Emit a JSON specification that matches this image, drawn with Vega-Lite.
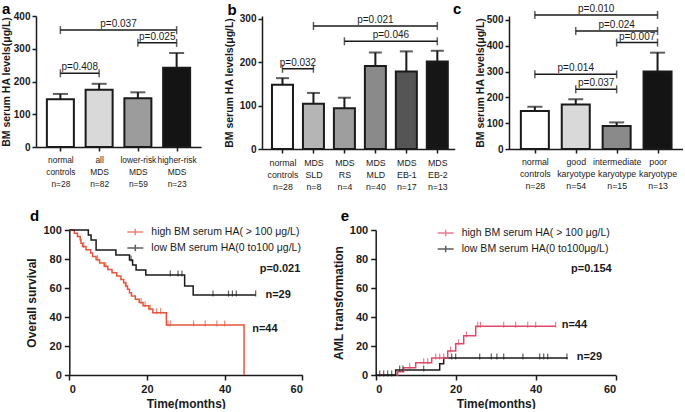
{
"$schema": "https://vega.github.io/schema/vega-lite/v6.json",
"padding": {"left": 1, "top": 2, "right": 0, "bottom": 0},
"background": "white",
"config": {
  "view": {"stroke": null},
  "font": "Liberation Sans",
  "title": {"font": "Liberation Sans", "fontSize": 15, "fontWeight": "bold", "anchor": "start", "color": "#000000", "frame": "group"},
  "axis": {"grid": false, "labelOverlap": false, "domainColor": "#1a1a1a", "tickColor": "#1a1a1a", "labelColor": "#1a1a1a", "titleColor": "#1a1a1a", "domainWidth": 1.5, "tickWidth": 1.5, "labelFont": "Liberation Sans", "titleFont": "Liberation Sans"},
  "legend": {"labelFont": "Liberation Sans"},
  "text": {"font": "Liberation Sans"}
},
"datasets": {
  "barsA": [
    {"i": 0, "group": "normal controls", "mean": 146, "upper": 162},
    {"i": 1, "group": "all MDS", "mean": 175, "upper": 193},
    {"i": 2, "group": "lower-risk MDS", "mean": 148.5, "upper": 167},
    {"i": 3, "group": "higher-risk MDS", "mean": 242, "upper": 287}
  ],
  "brA": [
    {"from": 0, "to": 3, "mid": 1.5, "y": 357, "label": "p=0.037"},
    {"from": 2, "to": 3, "mid": 2.5, "y": 318, "label": "p=0.025"},
    {"from": 0, "to": 1, "mid": 0.5, "y": 225, "label": "p=0.408"}
  ],
  "barsB": [
    {"i": 0, "group": "normal controls", "mean": 147.7, "upper": 163},
    {"i": 1, "group": "MDS SLD", "mean": 104, "upper": 129},
    {"i": 2, "group": "MDS RS", "mean": 94, "upper": 118},
    {"i": 3, "group": "MDS MLD", "mean": 191, "upper": 222},
    {"i": 4, "group": "MDS EB-1", "mean": 178.5, "upper": 224.6},
    {"i": 5, "group": "MDS EB-2", "mean": 201.5, "upper": 226}
  ],
  "brB": [
    {"from": 0, "to": 1, "mid": 0.5, "y": 184.6, "label": "p=0.032"},
    {"from": 2, "to": 5, "mid": 3.5, "y": 247.7, "label": "p=0.046"},
    {"from": 1, "to": 5, "mid": 3, "y": 283, "label": "p=0.021"}
  ],
  "barsC": [
    {"i": 0, "group": "normal controls", "mean": 147, "upper": 164},
    {"i": 1, "group": "good karyotype", "mean": 172, "upper": 192.5},
    {"i": 2, "group": "intermediate karyotype", "mean": 89, "upper": 103},
    {"i": 3, "group": "poor karyotype", "mean": 300, "upper": 373}
  ],
  "brC": [
    {"from": 0, "to": 3, "mid": 1.5, "y": 519, "label": "p=0.010"},
    {"from": 1, "to": 3, "mid": 2, "y": 457, "label": "p=0.024"},
    {"from": 2, "to": 3, "mid": 2.5, "y": 412, "label": "p=0.007"},
    {"from": 0, "to": 2, "mid": 1, "y": 289, "label": "p=0.014"},
    {"from": 1, "to": 2, "mid": 1.5, "y": 231, "label": "p=0.037"}
  ],
  "kmD": [
    {"group": "high BM serum HA( > 100 μg/L)", "t": 0, "s": 100},
    {"group": "high BM serum HA( > 100 μg/L)", "t": 1.3, "s": 97.7},
    {"group": "high BM serum HA( > 100 μg/L)", "t": 2.1, "s": 95.5},
    {"group": "high BM serum HA( > 100 μg/L)", "t": 2.8, "s": 93.2},
    {"group": "high BM serum HA( > 100 μg/L)", "t": 3.0, "s": 90.9},
    {"group": "high BM serum HA( > 100 μg/L)", "t": 3.4, "s": 88.6},
    {"group": "high BM serum HA( > 100 μg/L)", "t": 4.3, "s": 86.4},
    {"group": "high BM serum HA( > 100 μg/L)", "t": 5.5, "s": 84.1},
    {"group": "high BM serum HA( > 100 μg/L)", "t": 6.0, "s": 81.8},
    {"group": "high BM serum HA( > 100 μg/L)", "t": 6.9, "s": 79.5},
    {"group": "high BM serum HA( > 100 μg/L)", "t": 7.8, "s": 77.3},
    {"group": "high BM serum HA( > 100 μg/L)", "t": 9.0, "s": 75.0},
    {"group": "high BM serum HA( > 100 μg/L)", "t": 9.9, "s": 72.7},
    {"group": "high BM serum HA( > 100 μg/L)", "t": 11.0, "s": 70.5},
    {"group": "high BM serum HA( > 100 μg/L)", "t": 12.2, "s": 68.2},
    {"group": "high BM serum HA( > 100 μg/L)", "t": 13.3, "s": 65.9},
    {"group": "high BM serum HA( > 100 μg/L)", "t": 14.0, "s": 63.6},
    {"group": "high BM serum HA( > 100 μg/L)", "t": 14.5, "s": 61.4},
    {"group": "high BM serum HA( > 100 μg/L)", "t": 15.0, "s": 59.1},
    {"group": "high BM serum HA( > 100 μg/L)", "t": 15.5, "s": 56.8},
    {"group": "high BM serum HA( > 100 μg/L)", "t": 16.0, "s": 54.5},
    {"group": "high BM serum HA( > 100 μg/L)", "t": 17.0, "s": 52.3},
    {"group": "high BM serum HA( > 100 μg/L)", "t": 18.0, "s": 50.0},
    {"group": "high BM serum HA( > 100 μg/L)", "t": 19.0, "s": 47.7},
    {"group": "high BM serum HA( > 100 μg/L)", "t": 20.5, "s": 45.5},
    {"group": "high BM serum HA( > 100 μg/L)", "t": 21.5, "s": 43.0},
    {"group": "high BM serum HA( > 100 μg/L)", "t": 25.0, "s": 34.5},
    {"group": "high BM serum HA( > 100 μg/L)", "t": 45.0, "s": 34.5},
    {"group": "high BM serum HA( > 100 μg/L)", "t": 45.0, "s": 0},
    {"group": "low BM serum HA(0 to100 μg/L)", "t": 0, "s": 100},
    {"group": "low BM serum HA(0 to100 μg/L)", "t": 4.9, "s": 96.6},
    {"group": "low BM serum HA(0 to100 μg/L)", "t": 5.6, "s": 93.1},
    {"group": "low BM serum HA(0 to100 μg/L)", "t": 6.9, "s": 86.2},
    {"group": "low BM serum HA(0 to100 μg/L)", "t": 12.0, "s": 82.8},
    {"group": "low BM serum HA(0 to100 μg/L)", "t": 15.5, "s": 79.3},
    {"group": "low BM serum HA(0 to100 μg/L)", "t": 16.3, "s": 75.9},
    {"group": "low BM serum HA(0 to100 μg/L)", "t": 17.2, "s": 72.4},
    {"group": "low BM serum HA(0 to100 μg/L)", "t": 19.7, "s": 69.0},
    {"group": "low BM serum HA(0 to100 μg/L)", "t": 29.7, "s": 61.3},
    {"group": "low BM serum HA(0 to100 μg/L)", "t": 31.9, "s": 55.1},
    {"group": "low BM serum HA(0 to100 μg/L)", "t": 48.0, "s": 55.1}
  ],
  "censD": [
    {"group": "high BM serum HA( > 100 μg/L)", "t": 3.7, "s": 88.6},
    {"group": "high BM serum HA( > 100 μg/L)", "t": 7.3, "s": 79.5},
    {"group": "high BM serum HA( > 100 μg/L)", "t": 9.4, "s": 75.0},
    {"group": "high BM serum HA( > 100 μg/L)", "t": 14.6, "s": 61.4},
    {"group": "high BM serum HA( > 100 μg/L)", "t": 18.5, "s": 50.0},
    {"group": "high BM serum HA( > 100 μg/L)", "t": 19.5, "s": 47.7},
    {"group": "high BM serum HA( > 100 μg/L)", "t": 20.8, "s": 45.5},
    {"group": "high BM serum HA( > 100 μg/L)", "t": 22.5, "s": 43.0},
    {"group": "high BM serum HA( > 100 μg/L)", "t": 23.5, "s": 43.0},
    {"group": "high BM serum HA( > 100 μg/L)", "t": 25.4, "s": 34.5},
    {"group": "high BM serum HA( > 100 μg/L)", "t": 26.0, "s": 34.5},
    {"group": "high BM serum HA( > 100 μg/L)", "t": 32.0, "s": 34.5},
    {"group": "high BM serum HA( > 100 μg/L)", "t": 35.0, "s": 34.5},
    {"group": "high BM serum HA( > 100 μg/L)", "t": 38.0, "s": 34.5},
    {"group": "high BM serum HA( > 100 μg/L)", "t": 40.0, "s": 34.5},
    {"group": "low BM serum HA(0 to100 μg/L)", "t": 15.9, "s": 79.3},
    {"group": "low BM serum HA(0 to100 μg/L)", "t": 26.0, "s": 69.0},
    {"group": "low BM serum HA(0 to100 μg/L)", "t": 28.0, "s": 69.0},
    {"group": "low BM serum HA(0 to100 μg/L)", "t": 29.0, "s": 69.0},
    {"group": "low BM serum HA(0 to100 μg/L)", "t": 37.0, "s": 55.1},
    {"group": "low BM serum HA(0 to100 μg/L)", "t": 41.0, "s": 55.1},
    {"group": "low BM serum HA(0 to100 μg/L)", "t": 42.0, "s": 55.1},
    {"group": "low BM serum HA(0 to100 μg/L)", "t": 43.0, "s": 55.1},
    {"group": "low BM serum HA(0 to100 μg/L)", "t": 48.0, "s": 55.1}
  ],
  "kmE": [
    {"group": "low BM serum HA(0 to100μg/L)", "t": 0, "s": 0},
    {"group": "low BM serum HA(0 to100μg/L)", "t": 5.0, "s": 3.4},
    {"group": "low BM serum HA(0 to100μg/L)", "t": 16.0, "s": 7.8},
    {"group": "low BM serum HA(0 to100μg/L)", "t": 17.0, "s": 11.7},
    {"group": "low BM serum HA(0 to100μg/L)", "t": 48.0, "s": 11.7},
    {"group": "high BM serum HA( > 100 μg/L)", "t": 5.2, "s": 0},
    {"group": "high BM serum HA( > 100 μg/L)", "t": 5.5, "s": 2.3},
    {"group": "high BM serum HA( > 100 μg/L)", "t": 7.0, "s": 5.0},
    {"group": "high BM serum HA( > 100 μg/L)", "t": 10.0, "s": 8.5},
    {"group": "high BM serum HA( > 100 μg/L)", "t": 14.0, "s": 11.7},
    {"group": "high BM serum HA( > 100 μg/L)", "t": 18.0, "s": 16.5},
    {"group": "high BM serum HA( > 100 μg/L)", "t": 20.0, "s": 21.5},
    {"group": "high BM serum HA( > 100 μg/L)", "t": 22.0, "s": 27.0},
    {"group": "high BM serum HA( > 100 μg/L)", "t": 25.0, "s": 33.6},
    {"group": "high BM serum HA( > 100 μg/L)", "t": 45.0, "s": 33.6}
  ],
  "censE": [
    {"group": "low BM serum HA(0 to100μg/L)", "t": 1, "s": 0},
    {"group": "low BM serum HA(0 to100μg/L)", "t": 2, "s": 0},
    {"group": "low BM serum HA(0 to100μg/L)", "t": 3, "s": 0},
    {"group": "low BM serum HA(0 to100μg/L)", "t": 4, "s": 0},
    {"group": "low BM serum HA(0 to100μg/L)", "t": 6, "s": 3.4},
    {"group": "low BM serum HA(0 to100μg/L)", "t": 6.8, "s": 3.4},
    {"group": "low BM serum HA(0 to100μg/L)", "t": 12, "s": 3.4},
    {"group": "low BM serum HA(0 to100μg/L)", "t": 19, "s": 11.7},
    {"group": "low BM serum HA(0 to100μg/L)", "t": 20, "s": 11.7},
    {"group": "low BM serum HA(0 to100μg/L)", "t": 26, "s": 11.7},
    {"group": "low BM serum HA(0 to100μg/L)", "t": 28.9, "s": 11.7},
    {"group": "low BM serum HA(0 to100μg/L)", "t": 30.3, "s": 11.7},
    {"group": "low BM serum HA(0 to100μg/L)", "t": 32, "s": 11.7},
    {"group": "low BM serum HA(0 to100μg/L)", "t": 36.8, "s": 11.7},
    {"group": "low BM serum HA(0 to100μg/L)", "t": 41, "s": 11.7},
    {"group": "low BM serum HA(0 to100μg/L)", "t": 42, "s": 11.7},
    {"group": "low BM serum HA(0 to100μg/L)", "t": 43, "s": 11.7},
    {"group": "low BM serum HA(0 to100μg/L)", "t": 47.8, "s": 11.7},
    {"group": "high BM serum HA( > 100 μg/L)", "t": 8.5, "s": 5.0},
    {"group": "high BM serum HA( > 100 μg/L)", "t": 12, "s": 8.5},
    {"group": "high BM serum HA( > 100 μg/L)", "t": 13, "s": 8.5},
    {"group": "high BM serum HA( > 100 μg/L)", "t": 15, "s": 11.7},
    {"group": "high BM serum HA( > 100 μg/L)", "t": 16, "s": 11.7},
    {"group": "high BM serum HA( > 100 μg/L)", "t": 17, "s": 11.7},
    {"group": "high BM serum HA( > 100 μg/L)", "t": 18.7, "s": 16.5},
    {"group": "high BM serum HA( > 100 μg/L)", "t": 20.7, "s": 21.5},
    {"group": "high BM serum HA( > 100 μg/L)", "t": 22.7, "s": 27.0},
    {"group": "high BM serum HA( > 100 μg/L)", "t": 25.5, "s": 33.6},
    {"group": "high BM serum HA( > 100 μg/L)", "t": 26.2, "s": 33.6},
    {"group": "high BM serum HA( > 100 μg/L)", "t": 32, "s": 33.6},
    {"group": "high BM serum HA( > 100 μg/L)", "t": 35, "s": 33.6},
    {"group": "high BM serum HA( > 100 μg/L)", "t": 38, "s": 33.6},
    {"group": "high BM serum HA( > 100 μg/L)", "t": 40, "s": 33.6},
    {"group": "high BM serum HA( > 100 μg/L)", "t": 45, "s": 33.6}
  ]
},
"columns": 3,
"align": "each",
"bounds": "flush",
"spacing": {"row": 81, "column": 54},
"resolve": {"scale": {"fill": "independent", "color": "independent"}, "legend": {"fill": "independent", "color": "independent"}},
"concat": [
   {
    "width": 171.6, "height": 131,
    "title": {"text": "a", "dx": -34, "offset": -6},
    "layer": [
     {"data": {"name": "barsA"},
      "mark": {"type": "bar", "width": 27, "stroke": "#1a1a1a", "strokeWidth": 2},
      "encoding": {
       "x": {"field": "i", "type": "quantitative", "scale": {"domain": [-0.5, 3.5], "range": [0, 165], "nice": false, "zero": false},
             "axis": {"title": null, "values": [0, 1, 2, 3], "tickCount": 20, "tickSize": 4, "labelFontSize": 8.4, "labelLineHeight": 12, "labelPadding": 4, "labelFlush": false, "labelOverlap": false,
                      "labelExpr": "split(['normal|controls|n=28','all|MDS|n=82','lower-risk|MDS|n=59','higher-risk|MDS|n=23'][datum.value], '|')"}},
       "y": {"field": "mean", "type": "quantitative", "scale": {"domain": [0, 400], "nice": false},
             "axis": {"title": "BM serum HA levels(μg/L)", "values": [0, 100, 200, 300, 400], "tickCount": 20, "tickSize": 4, "labelFontSize": 10, "labelFontWeight": "bold", "labelPadding": 2, "titleFontSize": 10.5, "titleFontWeight": "bold", "titlePadding": 2}},
       "fill": {"field": "group", "type": "nominal", "legend": null,
                "scale": {"domain": ["normal controls", "all MDS", "lower-risk MDS", "higher-risk MDS"], "range": ["#ffffff", "#d9d9d9", "#9c9c9c", "#141414"]}}
      }},
     {"data": {"name": "barsA"}, "mark": {"type": "rule", "strokeWidth": 2, "color": "#1a1a1a"},
      "encoding": {"x": {"field": "i", "type": "quantitative"}, "y": {"field": "mean", "type": "quantitative"}, "y2": {"field": "upper"}}},
     {"data": {"name": "barsA"}, "mark": {"type": "tick", "orient": "horizontal", "size": 15, "thickness": 2, "color": "#1a1a1a"},
      "encoding": {"x": {"field": "i", "type": "quantitative"}, "y": {"field": "upper", "type": "quantitative"}}},
     {"data": {"name": "brA"}, "mark": {"type": "rule", "strokeWidth": 1.5, "color": "#1a1a1a"},
      "encoding": {"x": {"field": "from", "type": "quantitative"}, "x2": {"field": "to"}, "y": {"field": "y", "type": "quantitative"}}},
     {"data": {"name": "brA"}, "mark": {"type": "tick", "orient": "vertical", "size": 8, "thickness": 1.5, "color": "#1a1a1a"},
      "encoding": {"x": {"field": "from", "type": "quantitative"}, "y": {"field": "y", "type": "quantitative"}}},
     {"data": {"name": "brA"}, "mark": {"type": "tick", "orient": "vertical", "size": 8, "thickness": 1.5, "color": "#1a1a1a"},
      "encoding": {"x": {"field": "to", "type": "quantitative"}, "y": {"field": "y", "type": "quantitative"}}},
     {"data": {"name": "brA"}, "mark": {"type": "text", "fontSize": 10, "dy": -3, "baseline": "alphabetic", "color": "#1a1a1a"},
      "encoding": {"x": {"field": "mid", "type": "quantitative"}, "y": {"field": "y", "type": "quantitative"}, "text": {"field": "label"}}}
    ]
   },
   {
    "width": 192.7, "height": 133,
    "title": {"text": "b", "dx": -34.5, "offset": -3.9},
    "layer": [
     {"data": {"name": "barsB"},
      "mark": {"type": "bar", "width": 21, "stroke": "#1a1a1a", "strokeWidth": 2},
      "encoding": {
       "x": {"field": "i", "type": "quantitative", "scale": {"domain": [-0.5, 5.4], "nice": false, "zero": false},
             "axis": {"title": null, "values": [0, 1, 2, 3, 4, 5], "tickCount": 20, "tickSize": 4, "labelFontSize": 8.8, "labelLineHeight": 12, "labelPadding": 5, "labelFlush": false, "labelOverlap": false,
                      "labelExpr": "split(['normal|controls|n=28','MDS|SLD|n=8','MDS|RS|n=4','MDS|MLD|n=40','MDS|EB-1|n=17','MDS|EB-2|n=13'][datum.value], '|')"}},
       "y": {"field": "mean", "type": "quantitative", "scale": {"domain": [0, 306], "nice": false},
             "axis": {"title": "BM serum HA levels(μg/L)", "values": [0, 100, 200, 300], "tickCount": 20, "tickSize": 4, "labelFontSize": 10, "labelFontWeight": "bold", "labelPadding": 2, "titleFontSize": 10.5, "titleFontWeight": "bold", "titlePadding": 5}},
       "fill": {"field": "group", "type": "nominal", "legend": null,
                "scale": {"domain": ["normal controls", "MDS SLD", "MDS RS", "MDS MLD", "MDS EB-1", "MDS EB-2"], "range": ["#ffffff", "#b5b5b5", "#9e9e9e", "#8a8a8a", "#555555", "#161616"]}}
      }},
     {"data": {"name": "barsB"}, "mark": {"type": "rule", "strokeWidth": 2, "color": "#1a1a1a"},
      "encoding": {"x": {"field": "i", "type": "quantitative"}, "y": {"field": "mean", "type": "quantitative"}, "y2": {"field": "upper"}}},
     {"data": {"name": "barsB"}, "mark": {"type": "tick", "orient": "horizontal", "size": 13, "thickness": 2, "color": "#1a1a1a"},
      "encoding": {"x": {"field": "i", "type": "quantitative"}, "y": {"field": "upper", "type": "quantitative"}}},
     {"data": {"name": "brB"}, "mark": {"type": "rule", "strokeWidth": 1.5, "color": "#1a1a1a"},
      "encoding": {"x": {"field": "from", "type": "quantitative"}, "x2": {"field": "to"}, "y": {"field": "y", "type": "quantitative"}}},
     {"data": {"name": "brB"}, "mark": {"type": "tick", "orient": "vertical", "size": 8, "thickness": 1.5, "color": "#1a1a1a"},
      "encoding": {"x": {"field": "from", "type": "quantitative"}, "y": {"field": "y", "type": "quantitative"}}},
     {"data": {"name": "brB"}, "mark": {"type": "tick", "orient": "vertical", "size": 8, "thickness": 1.5, "color": "#1a1a1a"},
      "encoding": {"x": {"field": "to", "type": "quantitative"}, "y": {"field": "y", "type": "quantitative"}}},
     {"data": {"name": "brB"}, "mark": {"type": "text", "fontSize": 10, "dy": -3, "baseline": "alphabetic", "color": "#1a1a1a"},
      "encoding": {"x": {"field": "mid", "type": "quantitative"}, "y": {"field": "y", "type": "quantitative"}, "text": {"field": "label"}}}
    ]
   },
   {
    "width": 174, "height": 133,
    "title": {"text": "c", "dx": -56, "offset": -13.5},
    "layer": [
     {"data": {"name": "barsC"},
      "mark": {"type": "bar", "width": 28, "stroke": "#1a1a1a", "strokeWidth": 2},
      "encoding": {
       "x": {"field": "i", "type": "quantitative", "scale": {"domain": [-0.51, 3.5], "nice": false, "zero": false},
             "axis": {"title": null, "values": [0, 1, 2, 3], "tickCount": 20, "tickSize": 4, "labelFontSize": 8.8, "labelLineHeight": 12, "labelPadding": 4, "labelFlush": false, "labelOverlap": false,
                      "labelExpr": "split(['normal|controls|n=28','good|karyotype|n=54','intermediate|karyotype|n=15','poor|karyotype|n=13'][datum.value], '|')"}},
       "y": {"field": "mean", "type": "quantitative", "scale": {"domain": [0, 515], "nice": false},
             "axis": {"title": "BM serum HA levels(μg/L)", "values": [0, 100, 200, 300, 400, 500], "tickCount": 20, "tickSize": 4, "labelFontSize": 10, "labelFontWeight": "bold", "labelPadding": 2, "titleFontSize": 10.5, "titleFontWeight": "bold", "titlePadding": 1}},
       "fill": {"field": "group", "type": "nominal", "legend": null,
                "scale": {"domain": ["normal controls", "good karyotype", "intermediate karyotype", "poor karyotype"], "range": ["#ffffff", "#d9d9d9", "#8a8a8a", "#141414"]}}
      }},
     {"data": {"name": "barsC"}, "mark": {"type": "rule", "strokeWidth": 2, "color": "#1a1a1a"},
      "encoding": {"x": {"field": "i", "type": "quantitative"}, "y": {"field": "mean", "type": "quantitative"}, "y2": {"field": "upper"}}},
     {"data": {"name": "barsC"}, "mark": {"type": "tick", "orient": "horizontal", "size": 15, "thickness": 2, "color": "#1a1a1a"},
      "encoding": {"x": {"field": "i", "type": "quantitative"}, "y": {"field": "upper", "type": "quantitative"}}},
     {"data": {"name": "brC"}, "mark": {"type": "rule", "strokeWidth": 1.5, "color": "#1a1a1a"},
      "encoding": {"x": {"field": "from", "type": "quantitative"}, "x2": {"field": "to"}, "y": {"field": "y", "type": "quantitative"}}},
     {"data": {"name": "brC"}, "mark": {"type": "tick", "orient": "vertical", "size": 8, "thickness": 1.5, "color": "#1a1a1a"},
      "encoding": {"x": {"field": "from", "type": "quantitative"}, "y": {"field": "y", "type": "quantitative"}}},
     {"data": {"name": "brC"}, "mark": {"type": "tick", "orient": "vertical", "size": 8, "thickness": 1.5, "color": "#1a1a1a"},
      "encoding": {"x": {"field": "to", "type": "quantitative"}, "y": {"field": "y", "type": "quantitative"}}},
     {"data": {"name": "brC"}, "mark": {"type": "text", "fontSize": 10, "dy": -3, "baseline": "alphabetic", "color": "#1a1a1a"},
      "encoding": {"x": {"field": "mid", "type": "quantitative"}, "y": {"field": "y", "type": "quantitative"}, "text": {"field": "label"}}}
    ]
   },
   {
    "width": 171.6, "height": 145,
    "title": {"text": "d", "dx": -6, "offset": -0.5},
    "layer": [
     {"data": {"name": "kmD"},
      "mark": {"type": "line", "interpolate": "step-after", "strokeWidth": 1.5},
      "encoding": {
       "x": {"field": "t", "type": "quantitative", "scale": {"domain": [0, 60], "range": [33.3, 266.3], "nice": false},
             "axis": {"title": "Time(months)", "values": [0, 20, 40, 60], "tickSize": 5, "labelFontSize": 11, "labelFontWeight": "bold", "labelPadding": 3, "titleFontSize": 12, "titleFontWeight": "bold", "titlePadding": 4}},
       "y": {"field": "s", "type": "quantitative", "scale": {"domain": [0, 100], "nice": false},
             "axis": {"title": "Overall survival", "offset": -33.3, "values": [0, 20, 40, 60, 80, 100], "tickCount": 20, "tickSize": 5, "labelFontSize": 11, "labelFontWeight": "bold", "labelPadding": 3, "titleFontSize": 12, "titleFontWeight": "bold", "titlePadding": 4}},
       "color": {"field": "group", "type": "nominal",
                 "scale": {"domain": ["high BM serum HA( > 100 μg/L)", "low BM serum HA(0 to100 μg/L)"], "range": ["#e4553d", "#1a1a1a"]},
                 "legend": {"title": null, "orient": "none", "legendX": 90.3, "legendY": -7, "padding": 0, "rowPadding": 0, "symbolType": "M-1,0H1M0,-0.4V0.4", "symbolSize": 256, "symbolStrokeWidth": 1.5, "symbolFillColor": "transparent", "labelFontSize": 10.5, "labelOffset": 7, "labelColor": "#1a1a1a", "labelLimit": 300}},
       "order": [{"field": "t", "type": "quantitative"}, {"field": "s", "type": "quantitative", "sort": "descending"}]
      }},
     {"data": {"name": "censD"},
      "mark": {"type": "tick", "orient": "vertical", "size": 6, "thickness": 1.2, "yOffset": -1.5},
      "encoding": {
       "x": {"field": "t", "type": "quantitative"},
       "y": {"field": "s", "type": "quantitative"},
       "color": {"field": "group", "type": "nominal"}
      }},
     {"data": {"values": [{"t": 59.5, "s": 73, "label": "p=0.021"}]},
      "mark": {"type": "text", "align": "right", "baseline": "middle", "fontSize": 11, "fontWeight": "bold", "color": "#1a1a1a"},
      "encoding": {"x": {"field": "t", "type": "quantitative"}, "y": {"field": "s", "type": "quantitative"}, "text": {"field": "label"}}},
     {"data": {"values": [{"t": 50.5, "s": 55, "label": "n=29"}, {"t": 47.1, "s": 32, "label": "n=44"}]},
      "mark": {"type": "text", "align": "left", "baseline": "middle", "fontSize": 11, "fontWeight": "bold", "color": "#1a1a1a"},
      "encoding": {"x": {"field": "t", "type": "quantitative"}, "y": {"field": "s", "type": "quantitative"}, "text": {"field": "label"}}}
    ]
   },
   {
    "width": 192.7, "height": 145,
    "title": {"text": "e", "dx": 78.7, "offset": 0.5},
    "layer": [
     {"data": {"name": "kmE"},
      "mark": {"type": "line", "interpolate": "step-after", "strokeWidth": 1.5},
      "encoding": {
       "x": {"field": "t", "type": "quantitative", "scale": {"domain": [0, 60], "range": [113.7, 353.7], "nice": false},
             "axis": {"title": "Time(months)", "values": [0, 20, 40, 60], "tickSize": 5, "labelFontSize": 11, "labelFontWeight": "bold", "labelPadding": 3, "titleFontSize": 12, "titleFontWeight": "bold", "titlePadding": 4}},
       "y": {"field": "s", "type": "quantitative", "scale": {"domain": [0, 100], "nice": false},
             "axis": {"title": "AML transformation", "offset": -113.7, "values": [0, 20, 40, 60, 80, 100], "tickCount": 20, "tickSize": 5, "labelFontSize": 11, "labelFontWeight": "bold", "labelPadding": 3, "titleFontSize": 12, "titleFontWeight": "bold", "titlePadding": 4}},
       "color": {"field": "group", "type": "nominal",
                 "scale": {"domain": ["high BM serum HA( > 100 μg/L)", "low BM serum HA(0 to100μg/L)"], "range": ["#e0486a", "#1a1a1a"]},
                 "legend": {"title": null, "orient": "none", "legendX": 174.7, "legendY": -6, "padding": 0, "rowPadding": 0, "symbolType": "M-1,0H1M0,-0.4V0.4", "symbolSize": 256, "symbolStrokeWidth": 1.5, "symbolFillColor": "transparent", "labelFontSize": 10.5, "labelOffset": 7, "labelColor": "#1a1a1a", "labelLimit": 300}},
       "order": {"field": "t", "type": "quantitative"}
      }},
     {"data": {"name": "censE"},
      "mark": {"type": "tick", "orient": "vertical", "size": 6, "thickness": 1.2, "yOffset": -1.5},
      "encoding": {
       "x": {"field": "t", "type": "quantitative"},
       "y": {"field": "s", "type": "quantitative"},
       "color": {"field": "group", "type": "nominal"}
      }},
     {"data": {"values": [{"t": 59, "s": 73, "label": "p=0.154"}]},
      "mark": {"type": "text", "align": "right", "baseline": "middle", "fontSize": 11, "fontWeight": "bold", "color": "#1a1a1a"},
      "encoding": {"x": {"field": "t", "type": "quantitative"}, "y": {"field": "s", "type": "quantitative"}, "text": {"field": "label"}}},
     {"data": {"values": [{"t": 46.5, "s": 34.3, "label": "n=44"}, {"t": 50.25, "s": 12.4, "label": "n=29"}]},
      "mark": {"type": "text", "align": "left", "baseline": "middle", "fontSize": 11, "fontWeight": "bold", "color": "#1a1a1a"},
      "encoding": {"x": {"field": "t", "type": "quantitative"}, "y": {"field": "s", "type": "quantitative"}, "text": {"field": "label"}}}
    ]
   }
]
}
